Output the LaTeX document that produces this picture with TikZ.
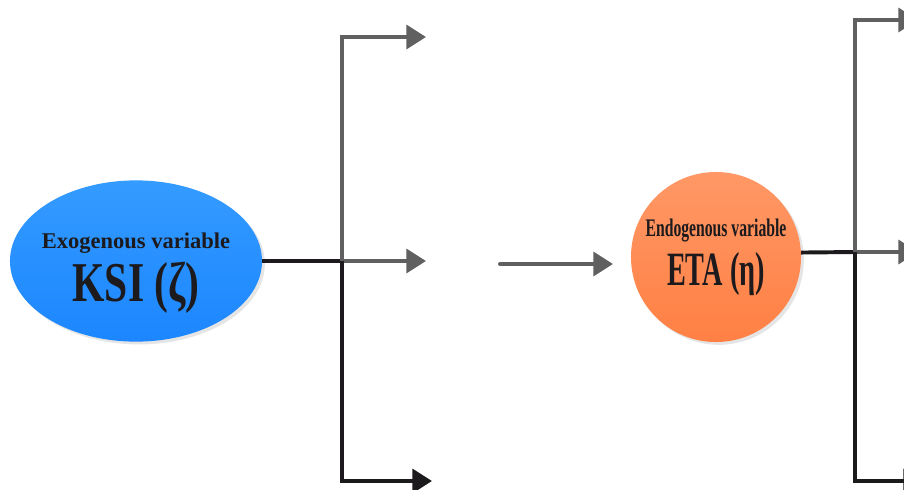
\documentclass[tikz,border=0pt]{standalone}
\usepackage{fontspec}
\setmainfont{Liberation Serif}
\newfontfamily\narrowA[FakeStretch=0.74]{Liberation Serif}
\newfontfamily\narrowB[FakeStretch=0.62]{Liberation Serif}
\newfontfamily\narrowC[FakeStretch=0.59]{Liberation Serif}
\usetikzlibrary{shapes.geometric, arrows.meta, shadows}
\definecolor{ksitop}{RGB}{52,155,255}
\definecolor{ksibot}{RGB}{28,134,255}
\definecolor{etatop}{RGB}{255,152,102}
\definecolor{etabot}{RGB}{255,128,68}
\definecolor{lightline}{RGB}{96,96,96}
\definecolor{darkline}{RGB}{28,26,28}
\tikzstyle{exo} = [ellipse, minimum width=6.3cm, minimum height=4.03cm,
    inner xsep=-14pt, inner ysep=0pt, top color=ksitop, bottom color=ksibot, align=center,
    drop shadow={shadow xshift=2pt, shadow yshift=-2pt, fill=black!20}]
\tikzstyle{endo} = [circle, minimum size=4.25cm, inner sep=-16pt,
    top color=etatop, bottom color=etabot, align=center,
    drop shadow={shadow xshift=2pt, shadow yshift=-2pt, fill=black!20}]
\tikzstyle{arrow} = [-{Triangle[length=14pt, width=17pt]}]
\tikzstyle{lgrey} = [line width=2.8pt, draw=lightline]
\tikzstyle{ldark} = [line width=2.8pt, draw=darkline]

\begin{document}
\begin{tikzpicture}[x=0.025cm, y=-0.025cm, text=darkline]
        \useasboundingbox (0,0) rectangle (904,489);

        % Nodes
        \node (ksi) [exo] at (136,261) {\rule{0pt}{28pt}{\fontsize{16}{18}\selectfont\bfseries Exogenous variable}\\[5pt]
            {\fontsize{40}{42}\selectfont\narrowA\bfseries KSI (ζ)}};

        \node (eta) [endo] at (716,257) {{\fontsize{18}{20}\selectfont\narrowB\bfseries Endogenous variable}\\[6pt]
            {\fontsize{34}{36}\selectfont\narrowC\bfseries ETA (η)}};

        \coordinate (ksij) at (342,261);
        \coordinate (ksiup) at (426,37);
        \coordinate (ksimid) at (426,261);
        \coordinate (ksidown) at (432,481);
        \coordinate (gapL) at (500,264);
        \coordinate (gapR) at (613,264);
        \coordinate (etaj) at (855,252);
        \coordinate (etaup) at (918,20);
        \coordinate (etamid) at (918,252);
        \coordinate (etadown) at (923,481);

        % Arrows
        \draw [ldark] (ksi.east) -- (ksij);
        \draw [lgrey, arrow] (ksij) |- (ksiup);
        \draw [lgrey, arrow] (ksij) -- (ksimid);
        \draw [ldark, arrow] (ksij) |- (ksidown);
        \draw [lgrey, arrow, line cap=round] (gapL) -- (gapR);
        \draw [ldark] (eta.3.4) -- (etaj);
        \draw [lgrey, arrow] (etaj) |- (etaup);
        \draw [lgrey, arrow] (etaj) -- (etamid);
        \draw [ldark, arrow] (etaj) |- (etadown);

    \end{tikzpicture}
\end{document}
